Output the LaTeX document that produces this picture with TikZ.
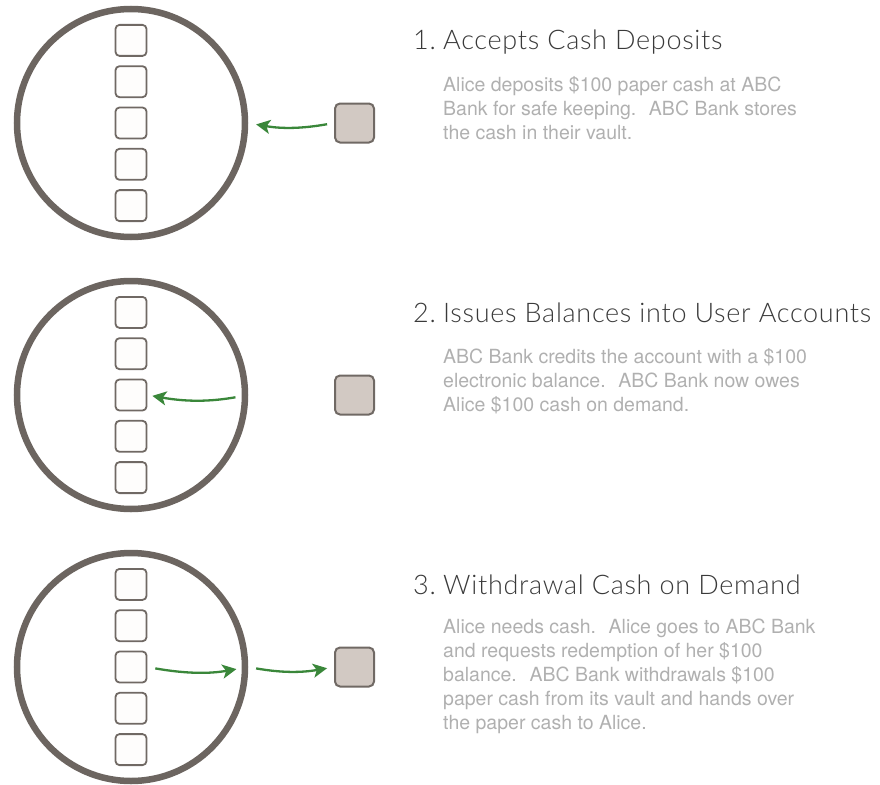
\documentclass[tikz,border=0pt]{standalone}
\usepackage{fontspec}
\setmainfont{TeX Gyre Heros}
\newfontfamily\headfont[LetterSpace=2.6]{Lato Light}
\usetikzlibrary{positioning,arrows.meta}
\definecolor{bankrim}{RGB}{108,101,96}
\definecolor{slotedge}{RGB}{112,105,100}
\definecolor{slotfill}{RGB}{254,253,252}
\definecolor{cashfill}{RGB}{210,201,195}
\definecolor{flowgreen}{RGB}{58,135,58}
\definecolor{headgray}{RGB}{58,58,58}
\definecolor{bodygray}{RGB}{176,176,176}

\begin{document}
\begin{tikzpicture}[x=1pt,y=-1pt,node distance=8.5pt,
    bank/.style={draw=bankrim,line width=6.5pt,circle,minimum size=228pt,inner sep=0pt},
    slot/.style={draw=slotedge,line width=1.8pt,rounded corners=4pt,fill=slotfill,minimum size=31pt,inner sep=0pt},
    cash/.style={draw=slotedge,line width=2pt,rounded corners=5pt,fill=cashfill,minimum size=39pt,inner sep=0pt},
    flow/.style={-{Stealth[length=14pt,width=14pt,inset=3.5pt]},line width=2.3pt,flowgreen},
    head/.style={anchor=base west,inner sep=0pt,text=headgray,font=\headfont\fontsize{27}{30}\selectfont},
    body/.style={anchor=base west,inner sep=0pt,align=left,text=bodygray,font=\fontsize{19.5}{24}\selectfont}]
  \useasboundingbox (0,0) rectangle (880,784);

  % 1. deposit
  \node[bank] (bankA) at (131,123) {};
  \node[slot] (slotA3) at (131,123) {};
  \node[slot,above=of slotA3] (slotA2) {};
  \node[slot,above=of slotA2] (slotA1) {};
  \node[slot,below=of slotA3] (slotA4) {};
  \node[slot,below=of slotA4] (slotA5) {};
  \node[cash] (cashA) at (354.5,123) {};
  \draw[flow,shorten <=7pt,shorten >=8pt] (cashA.west) to[bend left=10] (bankA.east);
  \node[head] (headA) at (413,50) {\makebox[30pt][l]{1.}Accepts Cash Deposits};
  % base of a multi-line node = last line
  \node[body] (textA) at (443,139) {Alice deposits \$100 paper cash at ABC\\
    Bank for safe keeping.~ ABC Bank stores\\
    the cash in their vault.};

  % 2. balance
  \node[bank] (bankB) at (131,395) {};
  \node[slot] (slotB3) at (131,395) {};
  \node[slot,above=of slotB3] (slotB2) {};
  \node[slot,above=of slotB2] (slotB1) {};
  \node[slot,below=of slotB3] (slotB4) {};
  \node[slot,below=of slotB4] (slotB5) {};
  \node[cash] (cashB) at (354.5,395) {};
  \draw[flow,shorten <=13pt,shorten >=5pt] (bankB.east) to[bend left=10] (slotB3.east);
  \node[head] (headB) at (413,322) {\makebox[30pt][l]{2.}Issues Balances into User Accounts};
  \node[body] (textB) at (443,411) {ABC Bank credits the account with a \$100\\
    electronic balance.~ ABC Bank now owes\\
    Alice \$100 cash on demand.};

  % 3. withdrawal
  \node[bank] (bankC) at (131,667) {};
  \node[slot] (slotC3) at (131,667) {};
  \node[slot,above=of slotC3] (slotC2) {};
  \node[slot,above=of slotC2] (slotC1) {};
  \node[slot,below=of slotC3] (slotC4) {};
  \node[slot,below=of slotC4] (slotC5) {};
  \node[cash] (cashC) at (354.5,667) {};
  \draw[flow,shorten <=8pt,shorten >=12pt] (slotC3.east) to[bend right=10] (bankC.east);
  \draw[flow,shorten <=8pt,shorten >=7pt] (bankC.east) to[bend right=10] (cashC.west);
  \node[head] (headC) at (413,594) {\makebox[30pt][l]{3.}Withdrawal Cash on Demand};
  \node[body] (textC) at (443,729) {Alice needs cash.~ Alice goes to ABC Bank\\
    and requests redemption of her \$100\\
    balance.~ ABC Bank withdrawals \$100\\
    paper cash from its vault and hands over\\
    the paper cash to Alice.};
\end{tikzpicture}
\end{document}
